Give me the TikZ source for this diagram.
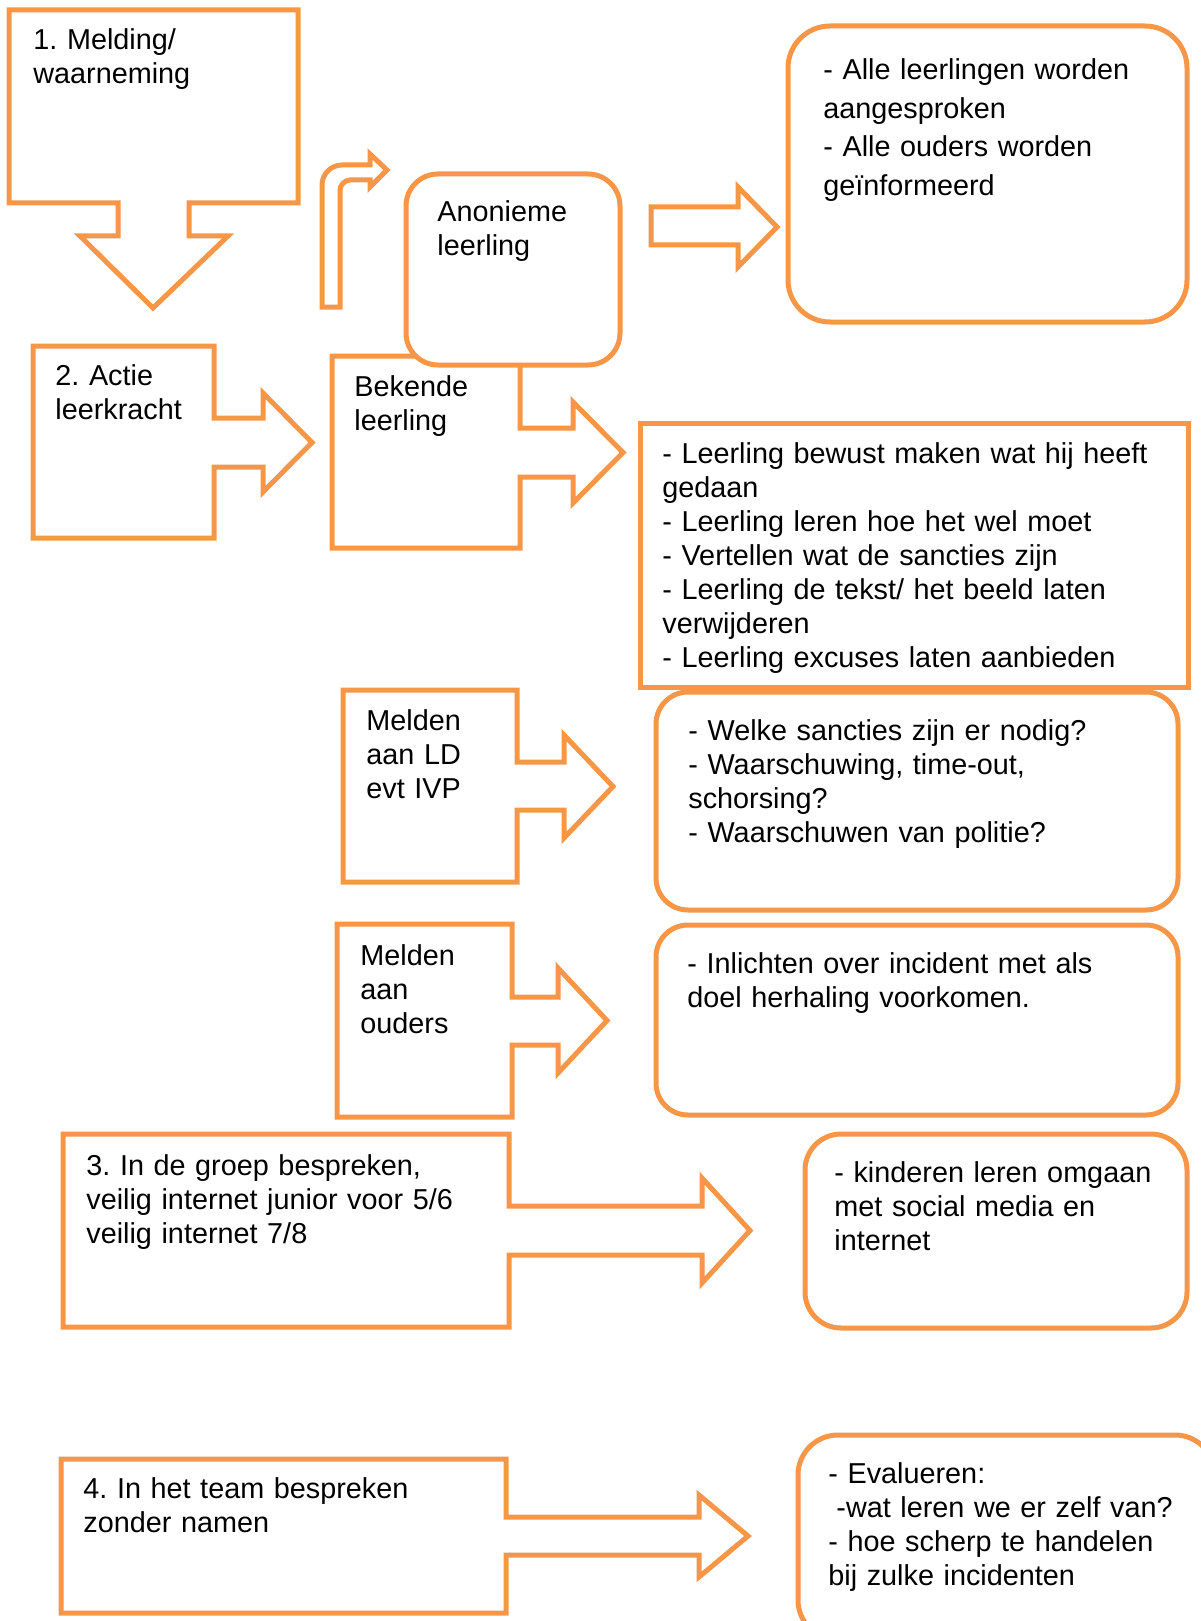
\documentclass[tikz,border=0pt]{standalone}
\usepackage{fontspec}
\setmainfont{Liberation Sans}
\usepackage{tikz}
\definecolor{ora}{HTML}{F79646}
\frenchspacing

\begin{document}
\begin{tikzpicture}[x=0.5pt, y=-0.5pt,
    shp/.style={draw=ora, line width=2.5pt, fill=white},
    txt/.style={anchor=base west, inner sep=0pt, align=left, text width=260pt,
      font=\fontsize{14.4}{17}\selectfont}]
      \useasboundingbox (0,0) rectangle (1200,1621);

      \draw[shp] (9,10) -- (298,10) -- (298,203) -- (189,203) -- (189,236) -- (228,236)
        -- (153,308) -- (80,236) -- (118,236) -- (118,203) -- (9,203) -- cycle;

      \foreach \xl/\yt/\xr/\yb/\sht/\shb/\hdx/\hdt/\hdb/\tipx in {33/346/214/538/418/467/263/393/492/312,
          332/356/520/548/428/477/573/402/503/623, 343/690/517/882/762/810/564/735/838/613,
          337/924/512/1117/997/1045/558/968/1073/607, 63/1134/509/1327/1206/1255/702/1178/1283/750,
          61/1459/506/1613/1517/1555/699/1495/1577/748} {
        \draw[shp] (\xl,\yt) -- (\xr,\yt) -- (\xr,\sht) -- (\hdx,\sht) -- (\hdx,\hdt)
          -- (\tipx,{(\hdt+\hdb)/2}) -- (\hdx,\hdb) -- (\hdx,\shb) -- (\xr,\shb) -- (\xr,\yb) -- (\xl,\yb) -- cycle;
      };

      \draw[shp] (322,307) -- (322,185) .. controls (322,174) and (331,165) .. (342,165) -- (370,165)
        -- (370,154) -- (387,170) -- (370,187) -- (370,180) -- (350,180)
        .. controls (344.5,180) and (340,185.5) .. (340,190) -- (340,307) -- cycle;
      \draw[shp] (651,207) -- (738,207) -- (738,187) -- (777,227) -- (738,267) -- (738,245) -- (651,245) -- cycle;

      \draw[shp, rounded corners=16pt] (406,174) rectangle (620,365);
      \draw[shp, rounded corners=21pt] (788,26) rectangle (1187,322);
      \draw[shp] (640,423) rectangle (1188,687);
      \draw[shp, rounded corners=16pt] (656,692) rectangle (1178,910);
      \draw[shp, rounded corners=16pt] (656,925) rectangle (1178,1115);
      \draw[shp, rounded corners=18pt] (805,1134) rectangle (1187,1328);
      \draw[shp, rounded corners=20pt] (798,1435) rectangle (1215,1640);

      \node[txt] (melding) at (33,50) {1. Melding/\\waarneming};
      \node[txt] (actie) at (55,385) {2. Actie\\leerkracht};
      \node[txt] (anoniem) at (437,222) {Anonieme\\leerling};
      \node[txt] (bekend) at (354,396) {Bekende\\leerling};
      \node[txt, font=\fontsize{14.4}{19.25}\selectfont] (alle) at (823,80)
        {- Alle leerlingen worden\\aangesproken\\- Alle ouders worden\\geïnformeerd};
      \node[txt] (bewust) at (662,463) {- Leerling bewust maken wat hij heeft\\gedaan\\- Leerling leren hoe het wel moet\\- Vertellen wat de sancties zijn\\- Leerling de tekst/ het beeld laten\\verwijderen\\- Leerling excuses laten aanbieden};
      \node[txt] (ld) at (366,730) {Melden\\aan LD\\evt IVP};
      \node[txt] (sancties) at (688,740) {- Welke sancties zijn er nodig?\\- Waarschuwing, time-out,\\schorsing?\\- Waarschuwen van politie?};
      \node[txt] (ouders) at (360,965) {Melden\\aan\\ouders};
      \node[txt] (inlichten) at (687,973) {- Inlichten over incident met als\\doel herhaling voorkomen.};
      \node[txt] (groep) at (86,1175) {3. In de groep bespreken,\\veilig internet junior voor 5/6\\veilig internet 7/8};
      \node[txt] (media) at (834,1182) {- kinderen leren omgaan\\met social media en\\internet};
      \node[txt] (team) at (83,1498) {4. In het team bespreken\\zonder namen};
      \node[txt] (evalueren) at (828,1483) {- Evalueren:\\\hspace*{.28em}-wat leren we er zelf van?\\- hoe scherp te handelen\\bij zulke incidenten};
    \end{tikzpicture}
\end{document}
